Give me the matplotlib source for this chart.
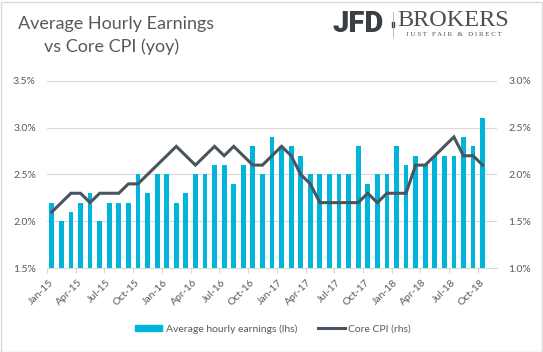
import numpy as np
import matplotlib
matplotlib.use('Agg')
from matplotlib import pyplot as plt
from matplotlib.patches import Patch, Rectangle
from matplotlib.lines import Line2D

# monthly, Jan-15 .. Oct-18
avg_hourly_earnings = [
    2.2, 2.0, 2.1, 2.2, 2.3, 2.0, 2.2, 2.2, 2.2, 2.5, 2.3, 2.5,
    2.5, 2.2, 2.3, 2.5, 2.5, 2.6, 2.6, 2.4, 2.6, 2.8, 2.5, 2.9,
    2.8, 2.8, 2.7, 2.5, 2.5, 2.5, 2.5, 2.5, 2.8, 2.4, 2.5, 2.5,
    2.8, 2.6, 2.7, 2.6, 2.7, 2.7, 2.7, 2.9, 2.8, 3.1,
]
core_cpi = [
    1.6, 1.7, 1.8, 1.8, 1.7, 1.8, 1.8, 1.8, 1.9, 1.9, 2.0, 2.1,
    2.2, 2.3, 2.2, 2.1, 2.2, 2.3, 2.2, 2.3, 2.2, 2.1, 2.1, 2.2,
    2.3, 2.2, 2.0, 1.9, 1.7, 1.7, 1.7, 1.7, 1.7, 1.8, 1.7, 1.8,
    1.8, 1.8, 2.1, 2.1, 2.2, 2.3, 2.4, 2.2, 2.2, 2.1,
]
tick_labels = ['Jan-15', 'Apr-15', 'Jul-15', 'Oct-15', 'Jan-16', 'Apr-16', 'Jul-16', 'Oct-16',
               'Jan-17', 'Apr-17', 'Jul-17', 'Oct-17', 'Jan-18', 'Apr-18', 'Jul-18', 'Oct-18']
left_ticks = [1.5, 2.0, 2.5, 3.0, 3.5]
right_ticks = [1.0, 1.5, 2.0, 2.5, 3.0]

BAR_COLOR = '#00B4DA'
LINE_COLOR = '#4A545E'
TEXT_COLOR = '#595959'
GRID_COLOR = '#D9D9D9'

plt.rcParams['font.family'] = ['Lato', 'DejaVu Sans']

W, H = 543, 352
fig = plt.figure(figsize=(W / 100, H / 100), dpi=100)
fig.patches.append(Rectangle((0.5 / W, 0.5 / H), 1 - 2 / W, 1 - 2 / H, transform=fig.transFigure,
                             fill=False, edgecolor=GRID_COLOR, linewidth=1))

ax = fig.add_axes([47 / W, 1 - 268.3 / H, 450 / W, (268.3 - 80.7) / H])
x = np.arange(len(avg_hourly_earnings))
ax.bar(x, avg_hourly_earnings, width=0.5, color=BAR_COLOR, zorder=2)
ax.set_xlim(-0.5, len(x) + 0.5)
ax.set_ylim(1.5, 3.5)
ax.set_yticks(left_ticks)
ax.set_yticklabels([f'{v:.1f}%' for v in left_ticks])
ax.grid(axis='y', color=GRID_COLOR, linewidth=0.8, zorder=0)
ax.set_axisbelow(True)
for s in ['top', 'left', 'right']:
    ax.spines[s].set_visible(False)
ax.spines['bottom'].set_color(GRID_COLOR)
ax.spines['bottom'].set_linewidth(0.8)
ax.tick_params(axis='y', length=0, pad=8, labelsize=7.5, labelcolor=TEXT_COLOR)

ax.set_xticks(np.arange(0, len(x), 3))
ax.set_xticklabels(tick_labels, rotation=45, ha='right', va='center', rotation_mode='anchor')
ax.set_xticks(np.arange(-0.5, len(x) - 1, 3), minor=True)
ax.tick_params(axis='x', which='major', length=0, pad=9, labelsize=7.5, labelcolor=TEXT_COLOR)
ax.tick_params(axis='x', which='minor', length=3.5, width=0.8, color=GRID_COLOR)

ax2 = ax.twinx()
ax2.plot(x, core_cpi, color=LINE_COLOR, linewidth=2.2, solid_joinstyle='miter', zorder=3)
ax2.set_ylim(1.0, 3.0)
ax2.set_yticks(right_ticks)
ax2.set_yticklabels([f'{v:.1f}%' for v in right_ticks])
for s in ax2.spines.values():
    s.set_visible(False)
ax2.tick_params(axis='y', length=0, pad=8, labelsize=7.5, labelcolor=TEXT_COLOR)

handles = [Patch(color=BAR_COLOR, label='Average hourly earnings (lhs)'),
           Line2D([], [], color=LINE_COLOR, linewidth=2.2, label='Core CPI (rhs)')]
fig.legend(handles=handles, loc='center', bbox_to_anchor=(273 / W, 1 - 329 / H), ncol=2,
           frameon=False, fontsize=7.5, labelcolor=TEXT_COLOR, handlelength=2.6, handleheight=0.6,
           columnspacing=2.0, handletextpad=0.3)

# title
fig.text(116 / W, 1 - 24 / H, 'Average Hourly Earnings', ha='center', va='center',
         fontsize=13, color=TEXT_COLOR)
fig.text(112 / W, 1 - 47 / H, 'vs Core CPI (yoy)', ha='center', va='center',
         fontsize=13, color=TEXT_COLOR)

# logo
fig.text(358 / W, 1 - 24.5 / H, 'JFD', ha='center', va='center', fontsize=21,
         fontweight='black', color='#3A3F45', family=['Roboto', 'DejaVu Sans'])
fig.add_artist(Line2D([393 / W, 393 / W], [1 - 12 / H, 1 - 37 / H], color='#B0B4B8', linewidth=0.6))
fig.add_artist(Rectangle((391.8 / W, 1 - 27 / H), 2.4 / W, 5 / H, color='#3A3F45'))
fig.text(453 / W, 1 - 20.5 / H, 'BROKERS', ha='center', va='center', fontsize=17.5,
         color='#4A4F55', family=['Liberation Serif', 'DejaVu Serif'])
fig.text(454 / W, 1 - 34 / H, 'J U S T   F A I R   &   D I R E C T', ha='center', va='center',
         fontsize=5, color='#4A4F55', family=['Liberation Serif', 'DejaVu Serif'])

fig.savefig('out.png', dpi=100)
